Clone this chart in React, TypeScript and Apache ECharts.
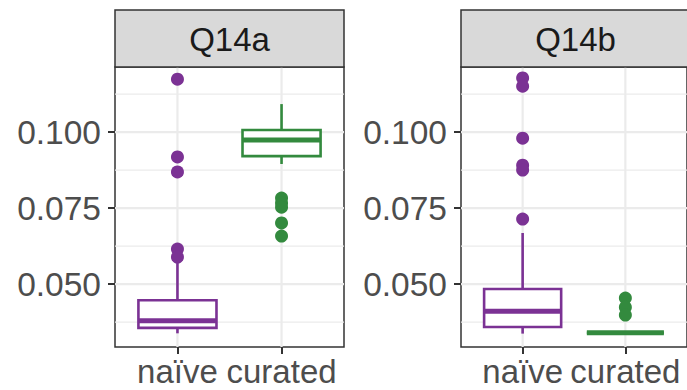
import React, { useEffect, useRef } from "react";
import * as echarts from "echarts";

const panels = ["Q14a", "Q14b"];
const categories = ["naïve", "curated"];
const yTicks = [0.05, 0.075, 0.1];
const yMinor = [0.0375, 0.0625, 0.0875, 0.1125];
const xTicks = [1, 2];
// [x, lowerWhisker, Q1, median, Q3, upperWhisker]
const q14aNaiveBox = [1, 0.0338, 0.0356, 0.0379, 0.0447, 0.0572];
const q14aCuratedBox = [2, 0.0895, 0.0921, 0.0974, 0.1007, 0.1092];
const q14bNaiveBox = [1, 0.0337, 0.0359, 0.0411, 0.0484, 0.0668];
const q14bCuratedBox = [2, 0.034, 0.034, 0.034, 0.034, 0.034];
const q14aNaiveOut = [0.1174, 0.0918, 0.0869, 0.0615, 0.0589];
const q14aCuratedOut = [0.0783, 0.0767, 0.0753, 0.0701, 0.0658];
const q14bNaiveOut = [0.1178, 0.1151, 0.098, 0.0891, 0.0875, 0.0714];
const q14bCuratedOut = [0.0454, 0.0424, 0.0398];

const PURPLE = "#7B3294";
const GREEN = "#338A3E";
const FONT = "Liberation Sans, Arial, Helvetica, sans-serif";
const Y_MIN = 0.0293;
const Y_MAX = 0.1214;
const X_MIN = 0.4;
const X_MAX = 2.6;

const GRID_LEFT = [115, 461];
const GRID_TOP = 67;
const GRID_W = 229;
const GRID_H = 280;

export default function App() {
  const ref = useRef<HTMLDivElement>(null);
  useEffect(() => {
    document.body.style.margin = "0";
    if (!ref.current) return;
    const chart = echarts.init(ref.current, null, { renderer: "svg" });

    const grids = GRID_LEFT.map((l) => ({
      left: l,
      top: GRID_TOP,
      width: GRID_W,
      height: GRID_H,
      show: true,
      backgroundColor: "#ffffff",
      borderColor: "#333333",
      borderWidth: 1.5,
    }));

    const xAxes = panels.map((_, i) => ({
      type: "value",
      gridIndex: i,
      min: X_MIN,
      max: X_MAX,
      splitLine: { show: false },
      axisLine: { show: false },
      axisTick: {
        show: true,
        customValues: xTicks,
        length: 7,
        lineStyle: { color: "#333333", width: 2 },
      },
      axisLabel: {
        customValues: xTicks,
        formatter: (v: number) => categories[Math.round(v) - 1] ?? "",
        fontSize: 33,
        fontFamily: FONT,
        color: "#4d4d4d",
        margin: 8,
      },
    }));

    const yAxes = panels.map((_, i) => ({
      type: "value",
      gridIndex: i,
      min: Y_MIN,
      max: Y_MAX,
      splitLine: { show: false },
      axisLine: { show: false },
      axisTick: {
        show: true,
        customValues: yTicks,
        length: 7,
        lineStyle: { color: "#333333", width: 2 },
      },
      axisLabel: {
        customValues: yTicks,
        formatter: (v: number) => v.toFixed(3),
        fontSize: 33.5,
        fontFamily: FONT,
        color: "#4d4d4d",
        margin: 14,
      },
    }));

    const gridData: any[] = [];
    yTicks.forEach((v) => gridData.push([0, v, 1]));
    yMinor.forEach((v) => gridData.push([0, v, 0]));
    xTicks.forEach((v) => gridData.push([1, v, 1]));

    const gridSeries = panels.map((_, i) => ({
      type: "custom",
      xAxisIndex: i,
      yAxisIndex: i,
      z: 1,
      silent: true,
      data: gridData,
      renderItem: (params: any, api: any) => {
        const dir = api.value(0);
        const v = api.value(1);
        const major = api.value(2) === 1;
        let p1, p2;
        if (dir === 0) {
          p1 = api.coord([X_MIN, v]);
          p2 = api.coord([X_MAX, v]);
        } else {
          p1 = api.coord([v, Y_MIN]);
          p2 = api.coord([v, Y_MAX]);
        }
        return {
          type: "line",
          shape: { x1: p1[0], y1: p1[1], x2: p2[0], y2: p2[1] },
          style: { stroke: "#ebebeb", lineWidth: major ? 2.2 : 1.2 },
        };
      },
    }));

    const boxSeries = (idx: number, box: number[], color: string) => ({
      type: "custom",
      xAxisIndex: idx,
      yAxisIndex: idx,
      z: 3,
      data: [box],
      renderItem: (params: any, api: any) => {
        const x = api.value(0);
        const lo = api.coord([x, api.value(1)]);
        const q1 = api.coord([x, api.value(2)]);
        const med = api.coord([x, api.value(3)]);
        const q3 = api.coord([x, api.value(4)]);
        const hi = api.coord([x, api.value(5)]);
        const hw = api.size([0.75, 0])[0] / 2;
        return {
          type: "group",
          children: [
            {
              type: "line",
              shape: { x1: q3[0], y1: q3[1], x2: hi[0], y2: hi[1] },
              style: { stroke: color, lineWidth: 2.6 },
            },
            {
              type: "line",
              shape: { x1: q1[0], y1: q1[1], x2: lo[0], y2: lo[1] },
              style: { stroke: color, lineWidth: 2.6 },
            },
            {
              type: "rect",
              shape: { x: q3[0] - hw, y: q3[1], width: hw * 2, height: q1[1] - q3[1] },
              style: { fill: "#ffffff", stroke: color, lineWidth: 2.6 },
            },
            {
              type: "line",
              shape: { x1: med[0] - hw, y1: med[1], x2: med[0] + hw, y2: med[1] },
              style: { stroke: color, lineWidth: 5 },
            },
          ],
        };
      },
    });

    const outSeries = (idx: number, x: number, vals: number[], color: string) => ({
      type: "scatter",
      xAxisIndex: idx,
      yAxisIndex: idx,
      z: 4,
      symbol: "circle",
      symbolSize: 13,
      itemStyle: { color, opacity: 1 },
      data: vals.map((v) => [x, v]),
    });

    const strips: any[] = [];
    panels.forEach((name, i) => {
      strips.push({
        type: "rect",
        shape: { x: GRID_LEFT[i], y: 10, width: GRID_W, height: GRID_TOP - 10 },
        style: { fill: "#d9d9d9", stroke: "#333333", lineWidth: 1.5 },
        z: 10,
      });
      strips.push({
        type: "text",
        x: GRID_LEFT[i] + GRID_W / 2,
        y: (10 + GRID_TOP) / 2 + 1,
        style: {
          text: name,
          fontSize: 33,
          fontFamily: FONT,
          fill: "#1a1a1a",
          align: "center",
          verticalAlign: "middle",
        },
        z: 11,
      });
    });

    chart.setOption({
      animation: false,
      backgroundColor: "#ffffff",
      grid: grids,
      xAxis: xAxes,
      yAxis: yAxes,
      graphic: strips,
      series: [
        ...gridSeries,
        boxSeries(0, q14aNaiveBox, PURPLE),
        boxSeries(0, q14aCuratedBox, GREEN),
        boxSeries(1, q14bNaiveBox, PURPLE),
        boxSeries(1, q14bCuratedBox, GREEN),
        outSeries(0, 1, q14aNaiveOut, PURPLE),
        outSeries(0, 2, q14aCuratedOut, GREEN),
        outSeries(1, 1, q14bNaiveOut, PURPLE),
        outSeries(1, 2, q14bCuratedOut, GREEN),
      ],
    });
    return () => chart.dispose();
  }, []);
  return <div ref={ref} style={{ width: 687, height: 390 }} />;
}
